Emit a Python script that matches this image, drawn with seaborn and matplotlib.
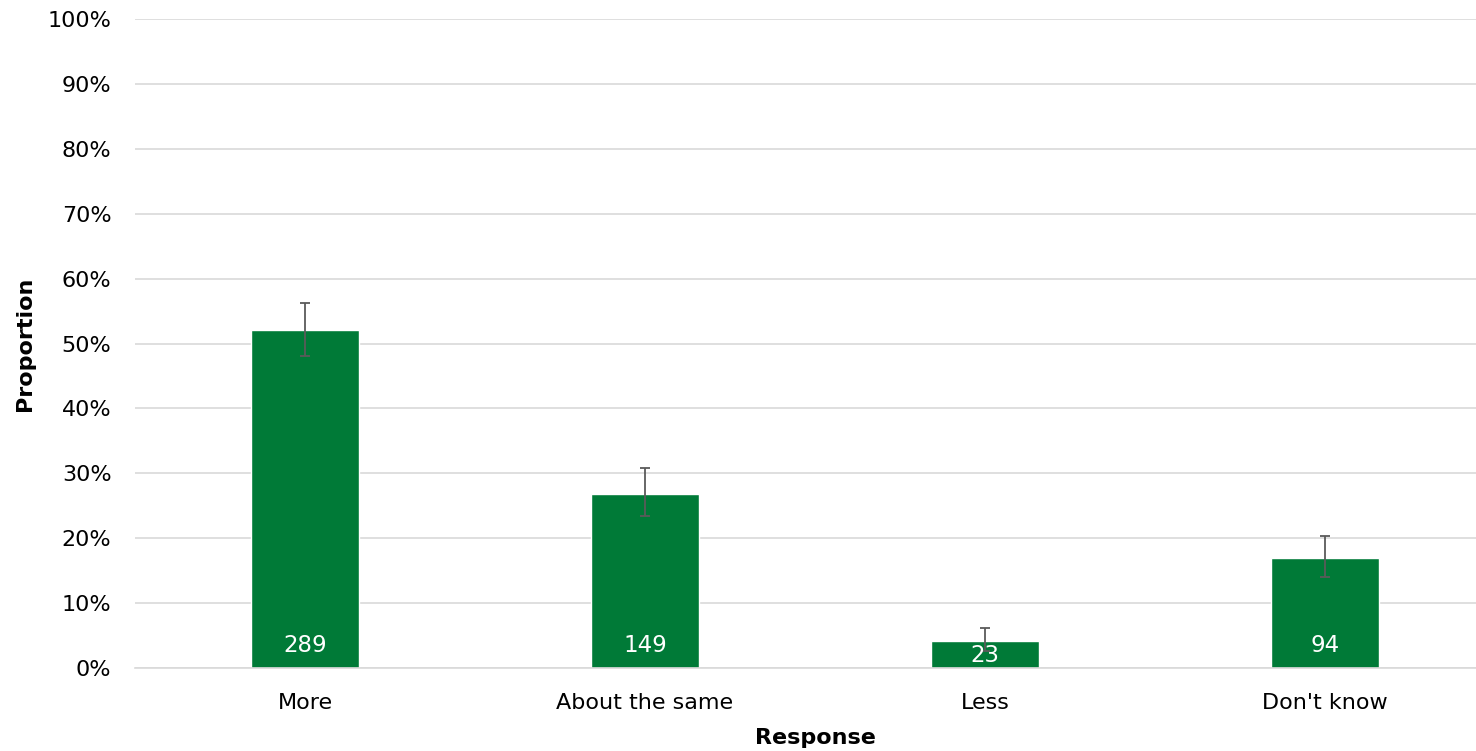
import pandas as pd
import matplotlib.pyplot as plt
import seaborn as sns
import numpy as np
from matplotlib.ticker import PercentFormatter

# data
responses = ["More", "About the same", "Less", "Don't know"]
counts = [289, 149, 23, 94]
proportion = [52.1, 26.8, 4.2, 16.9]
err_low = [48.1, 23.4, 2.6, 14.0]
err_high = [56.2, 30.8, 6.2, 20.3]

BAR_GREEN = '#007A37'
GRID_GREY = '#D9D9D9'

sns.set_style("white")
plt.rcParams['font.family'] = ['DejaVu Sans']

df = pd.DataFrame({'response': responses, 'proportion': proportion, 'n': counts})

fig = plt.figure(figsize=(14.76, 7.51), dpi=100)
# plot area runs slightly past the right edge of the image (like the original)
ax = fig.add_axes([135 / 1476, 1 - 668 / 751, (1495 - 135) / 1476, (668 - 19) / 751])

sns.barplot(data=df, x='response', y='proportion', color=BAR_GREEN,
            width=0.32, saturation=1, ax=ax, zorder=2)

x = np.arange(len(responses))
yerr = [np.array(proportion) - np.array(err_low), np.array(err_high) - np.array(proportion)]
ax.errorbar(x, proportion, yerr=yerr, fmt='none', ecolor='#5A5A5A',
            elinewidth=1.3, capsize=3.6, capthick=1.3, zorder=3)

# count labels inside the bar base
for i, (n, p) in enumerate(zip(counts, proportion)):
    ax.text(i, min(3.5, p / 2 - 0.2), str(n), ha='center', va='center',
            color='white', fontsize=16.5, zorder=4)

ax.set_ylim(0, 100)
ax.set_xlim(-0.5, len(responses) - 0.5)
ax.set_yticks(np.arange(0, 101, 10))
ax.yaxis.set_major_formatter(PercentFormatter(decimals=0))
ax.grid(axis='y', color=GRID_GREY, linewidth=1.2, zorder=0)
ax.set_axisbelow(True)

for side in ['top', 'right', 'left']:
    ax.spines[side].set_visible(False)
ax.spines['bottom'].set_color(GRID_GREY)
ax.spines['bottom'].set_linewidth(1.2)

ax.tick_params(axis='y', length=0, labelsize=16, colors='black', pad=17)
ax.tick_params(axis='x', length=0, labelsize=16, colors='black', pad=18)
ax.set_xlabel("Response", fontsize=16, fontweight='bold', color='black', labelpad=11)
ax.set_ylabel("Proportion", fontsize=16, fontweight='bold', color='black', labelpad=9)

fig.savefig("out.png", dpi=100)
